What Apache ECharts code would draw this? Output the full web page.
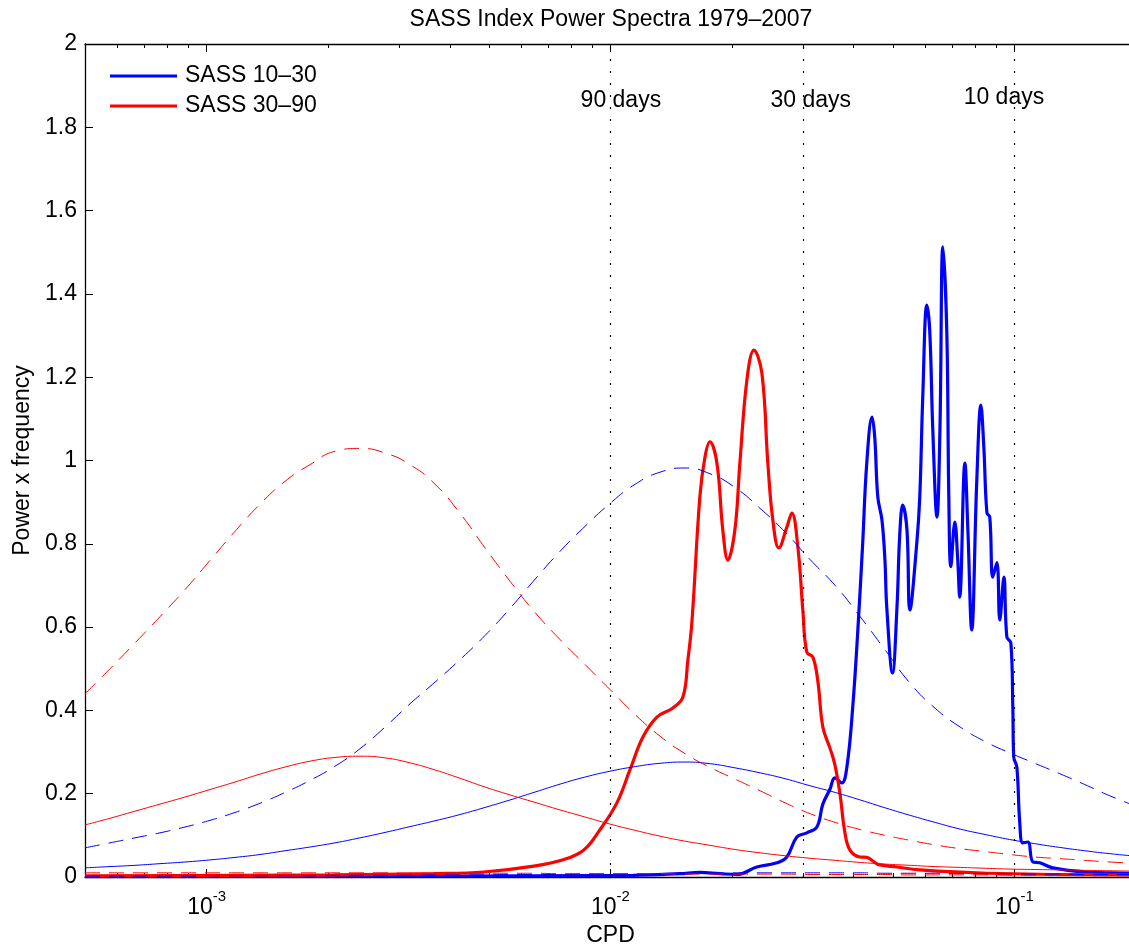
<!DOCTYPE html>
<html>
<head>
<meta charset="utf-8">
<title>SASS Index Power Spectra 1979–2007</title>
<script src="https://cdn.jsdelivr.net/npm/echarts@6/dist/echarts.min.js"></script>
<style>
  html, body { margin: 0; padding: 0; background: #fff; }
  #chart { width: 1129px; height: 945px; }
</style>
</head>
<body>
<div id="chart"></div>
<script>
const FONT = '"Liberation Sans", Arial, Helvetica, sans-serif';
const BLUE = '#0000ff';
const RED = '#ff0000';

// frequency grid (CPD) for the smooth background / significance curves
const refCpd = [0.0005, 0.0005766, 0.0006649, 0.0007668, 0.0008842, 0.0010197, 0.0011759, 0.001356, 0.0015638, 0.0018034,
  0.0020797, 0.0023983, 0.0027658, 0.0031896, 0.0036783, 0.0042418, 0.0048917, 0.0056412, 0.0065055, 0.0075023,
  0.0086517, 0.0099774, 0.011506, 0.013269, 0.015302, 0.017647, 0.02035, 0.023468, 0.027064, 0.031211,
  0.035993, 0.041508, 0.047867, 0.055202, 0.06366, 0.073413, 0.084662, 0.09739, 0.11231, 0.12952,
  0.14937, 0.17225, 0.2];
const blueBackground = [0.022, 0.025, 0.028, 0.032, 0.036, 0.041, 0.047, 0.054, 0.063, 0.072,
  0.082, 0.094, 0.107, 0.121, 0.135, 0.15, 0.167, 0.185, 0.204, 0.223,
  0.24, 0.254, 0.265, 0.273, 0.276, 0.272, 0.262, 0.25, 0.236, 0.219,
  0.203, 0.185, 0.166, 0.148, 0.131, 0.115, 0.102, 0.09, 0.08, 0.071,
  0.063, 0.056, 0.05];
const blueSignif = [0.07, 0.082, 0.094, 0.106, 0.12, 0.136, 0.155, 0.177, 0.203, 0.232,
  0.266, 0.308, 0.36, 0.416, 0.468, 0.522, 0.58, 0.645, 0.715, 0.782,
  0.842, 0.897, 0.943, 0.972, 0.982, 0.968, 0.935, 0.885, 0.828, 0.762,
  0.7, 0.625, 0.545, 0.465, 0.405, 0.36, 0.325, 0.298, 0.273, 0.248,
  0.222, 0.195, 0.17];
const redBackground = [0.125, 0.141, 0.158, 0.175, 0.192, 0.21, 0.228, 0.247, 0.264, 0.278,
  0.287, 0.29, 0.286, 0.274, 0.257, 0.237, 0.216, 0.197, 0.179, 0.161,
  0.144, 0.127, 0.112, 0.098, 0.086, 0.076, 0.066, 0.058, 0.051, 0.045,
  0.04, 0.035, 0.031, 0.028, 0.025, 0.023, 0.021, 0.019, 0.018, 0.017,
  0.016, 0.015, 0.014];
const redSignif = [0.44, 0.5, 0.562, 0.625, 0.69, 0.76, 0.83, 0.895, 0.95, 0.99,
  1.022, 1.029, 1.018, 0.99, 0.943, 0.873, 0.79, 0.71, 0.635, 0.57,
  0.51, 0.45, 0.39, 0.338, 0.296, 0.263, 0.235, 0.207, 0.178, 0.152,
  0.131, 0.114, 0.1, 0.088, 0.077, 0.068, 0.061, 0.054, 0.048, 0.044,
  0.04, 0.036, 0.033];
const blueFloor = [0.002, 0.002, 0.002, 0.002, 0.002, 0.003, 0.003, 0.003, 0.003, 0.003,
  0.004, 0.004, 0.004, 0.004, 0.005, 0.005, 0.005, 0.006, 0.006, 0.006,
  0.007, 0.007, 0.008, 0.008, 0.009, 0.009, 0.010, 0.010, 0.010, 0.010,
  0.010, 0.010, 0.009, 0.009, 0.009, 0.008, 0.008, 0.008, 0.007, 0.007,
  0.006, 0.006, 0.006];
const redFloor = [0.010, 0.010, 0.010, 0.010, 0.010, 0.010, 0.010, 0.010, 0.010, 0.010,
  0.010, 0.010, 0.010, 0.009, 0.009, 0.009, 0.009, 0.009, 0.009, 0.008,
  0.008, 0.008, 0.008, 0.008, 0.007, 0.007, 0.007, 0.007, 0.007, 0.006,
  0.006, 0.006, 0.006, 0.005, 0.005, 0.005, 0.005, 0.004, 0.004, 0.004,
  0.003, 0.003, 0.003];

// SASS 10-30 spectrum
const blueCpd = [0.0005, 0.00207, 0.00646, 0.01136, 0.01485, 0.01664, 0.01866, 0.02055, 0.02303, 0.02582,
  0.02733, 0.02893, 0.03062, 0.03243, 0.03355, 0.03492, 0.03593, 0.03738, 0.03848, 0.0398,
  0.0410, 0.0421, 0.0431, 0.0444, 0.0451, 0.0459, 0.0470, 0.0478, 0.0483, 0.0499,
  0.0512, 0.0520, 0.0529, 0.0542, 0.0551, 0.0573, 0.0583, 0.0593, 0.0607, 0.0617,
  0.0628, 0.0643, 0.0654, 0.0665, 0.0680, 0.0688, 0.0696, 0.0712, 0.0724, 0.0732,
  0.0754, 0.0767, 0.0784, 0.0807, 0.0826, 0.0840, 0.0855, 0.0869, 0.0884, 0.0905,
  0.0920, 0.0942, 0.0958, 0.0980, 0.0991, 0.0996, 0.1014, 0.1031, 0.1049, 0.1080,
  0.1111, 0.1156, 0.1245, 0.151, 0.190, 0.2];
const blueValues = [0.001, 0.002, 0.003, 0.004, 0.008, 0.011, 0.008, 0.006, 0.024, 0.034,
  0.048, 0.096, 0.106, 0.12, 0.175, 0.21, 0.238, 0.226, 0.264, 0.41,
  0.6, 0.8, 0.994, 1.104, 1.056, 0.912, 0.857, 0.761, 0.648, 0.49,
  0.648, 0.82, 0.893, 0.833, 0.641, 0.8, 0.912, 1.152, 1.373, 1.313,
  1.073, 0.864, 1.073, 1.513, 1.313, 0.912, 0.745, 0.852, 0.76, 0.672,
  0.994, 0.833, 0.593, 0.953, 1.133, 1.032, 0.874, 0.864, 0.72, 0.755,
  0.617, 0.72, 0.576, 0.562, 0.408, 0.288, 0.264, 0.13, 0.082, 0.084,
  0.036, 0.034, 0.022, 0.012, 0.009, 0.008];

// SASS 30-90 spectrum
const redCpd = [0.0005, 0.00117, 0.00207, 0.00366, 0.00486, 0.00646, 0.00767, 0.00859, 0.00941, 0.01037,
  0.01117, 0.01203, 0.01303, 0.01427, 0.01511, 0.01554, 0.0159, 0.01664, 0.01713, 0.01762,
  0.01834, 0.01897, 0.01952, 0.02032, 0.02091, 0.02176, 0.02265, 0.0237, 0.02452, 0.02523,
  0.02611, 0.02733, 0.02812, 0.0291, 0.02994, 0.03062, 0.0317, 0.03261, 0.03355, 0.03492,
  0.03593, 0.0370, 0.0380, 0.03913, 0.04143, 0.04312, 0.04512, 0.04642, 0.0512, 0.0583,
  0.0855, 0.1823, 0.2];
const redValues = [0.003, 0.004, 0.005, 0.008, 0.012, 0.026, 0.042, 0.065, 0.113, 0.178,
  0.257, 0.336, 0.384, 0.406, 0.432, 0.52, 0.61, 0.912, 1.008, 1.045,
  0.994, 0.833, 0.761, 0.833, 0.994, 1.193, 1.265, 1.21, 0.994, 0.857,
  0.79, 0.84, 0.874, 0.792, 0.64, 0.54, 0.528, 0.47, 0.36, 0.31,
  0.27, 0.2, 0.11, 0.065, 0.048, 0.047, 0.035, 0.029, 0.024, 0.017,
  0.009, 0.005, 0.005];

// period markers
const periodDays = [90, 30, 10];
const periodLabel = ['90 days', '30 days', '10 days'];
const periodLabelCpd = [0.01061, 0.03133, 0.0942];
const periodLabelY = [1.863, 1.863, 1.870];

const pairs = (xs, ys) => xs.map((x, i) => [x, ys[i]]);

const chart = echarts.init(document.getElementById('chart'));

const xAxisBase = {
  type: 'log',
  logBase: 10,
  min: 0.0005,
  max: 0.2,
  axisLine: { show: true, lineStyle: { color: '#000', width: 1.3 } },
  axisTick: { show: true, inside: true, length: 8, lineStyle: { color: '#000', width: 1 } },
  minorTick: { show: true, splitNumber: 9, length: 4, lineStyle: { color: '#000', width: 1 } },
  splitLine: { show: false },
  minorSplitLine: { show: false },
};

const line = (name, data, color, width, type, smooth) => ({
  name: name,
  type: 'line',
  data: data,
  showSymbol: false,
  symbol: 'none',
  smooth: smooth,
  silent: true,
  lineStyle: { color: color, width: width, type: type },
  itemStyle: { color: color },
});

const DASH = [15, 9];

const option = {
  animation: false,
  backgroundColor: '#fff',
  textStyle: { fontFamily: FONT },
  title: {
    text: 'SASS Index Power Spectra 1979–2007',
    left: 611,
    textAlign: 'center',
    top: 8,
    padding: 0,
    textStyle: { fontFamily: FONT, fontSize: 23, fontWeight: 'normal', color: '#000' },
  },
  legend: {
    orient: 'vertical',
    left: 110,
    top: 62,
    padding: 0,
    itemGap: 2,
    itemWidth: 67,
    itemHeight: 3,
    icon: 'rect',
    data: ['SASS 10–30', 'SASS 30–90'],
    textStyle: { fontFamily: FONT, fontSize: 23, color: '#000', lineHeight: 28, padding: [0, 0, 0, 3] },
  },
  grid: { left: 85, right: -7, top: 44, bottom: 68, outerBoundsMode: 'none', containLabel: false },
  xAxis: [
    Object.assign({}, xAxisBase, {
      position: 'bottom',
      name: 'CPD',
      nameLocation: 'middle',
      nameGap: 44,
      nameTextStyle: { fontFamily: FONT, fontSize: 23, color: '#000' },
      axisLabel: {
        color: '#000',
        margin: 12,
        showMinLabel: false,
        showMaxLabel: false,
        formatter: (v) => {
          const e = Math.log10(v);
          if (Math.abs(e - Math.round(e)) > 1e-6) return '';
          return '{b|10}{s|' + Math.round(e) + '}';
        },
        rich: {
          b: { fontFamily: FONT, fontSize: 23, color: '#000', verticalAlign: 'bottom', lineHeight: 30 },
          s: { fontFamily: FONT, fontSize: 15, color: '#000', verticalAlign: 'top', lineHeight: 30 },
        },
      },
    }),
    Object.assign({}, xAxisBase, {
      position: 'top',
      axisLabel: { show: false },
    }),
  ],
  yAxis: {
    type: 'value',
    min: 0,
    max: 2,
    interval: 0.2,
    name: 'Power x frequency',
    nameLocation: 'middle',
    nameGap: 50,
    nameTextStyle: { fontFamily: FONT, fontSize: 23, color: '#000' },
    axisLine: { show: true, lineStyle: { color: '#000', width: 1.3 } },
    axisTick: { show: true, inside: true, length: 8, lineStyle: { color: '#000', width: 1 } },
    axisLabel: { color: '#000', fontFamily: FONT, fontSize: 23, margin: 8 },
    splitLine: { show: false },
  },
  series: [
    line('SASS 10–30', pairs(blueCpd, blueValues), BLUE, 3.2, 'solid', 0.4),
    line('SASS 30–90', pairs(redCpd, redValues), RED, 3.2, 'solid', 0.4),
    line('blue background', pairs(refCpd, blueBackground), BLUE, 1, 'solid', 0.5),
    line('red background', pairs(refCpd, redBackground), RED, 1, 'solid', 0.5),
    line('blue 95%', pairs(refCpd, blueSignif), BLUE, 1, DASH, 0.5),
    line('red 95%', pairs(refCpd, redSignif), RED, 1, DASH, 0.5),
    line('blue floor', pairs(refCpd, blueFloor), BLUE, 1, DASH, 0.5),
    line('red floor', pairs(refCpd, redFloor), RED, 1, DASH, 0.5),
    {
      name: 'periods',
      type: 'scatter',
      silent: true,
      z: 5,
      symbolSize: 1,
      itemStyle: { color: 'rgba(0,0,0,0)' },
      data: periodLabelCpd.map((x, i) => [x, periodLabelY[i], periodLabel[i]]),
      label: {
        show: true,
        position: 'inside',
        formatter: (p) => p.data[2],
        fontFamily: FONT,
        fontSize: 23,
        color: '#000',
        opacity: 1,
        textBorderWidth: 0,
      },
      markLine: {
        silent: true,
        symbol: 'none',
        label: { show: false },
        lineStyle: { color: '#000', width: 1.2, type: [2, 10] },
        data: periodDays.map((d) => ({ xAxis: 1 / d })),
      },
    },
  ],
};

chart.setOption(option);
</script>
</body>
</html>
